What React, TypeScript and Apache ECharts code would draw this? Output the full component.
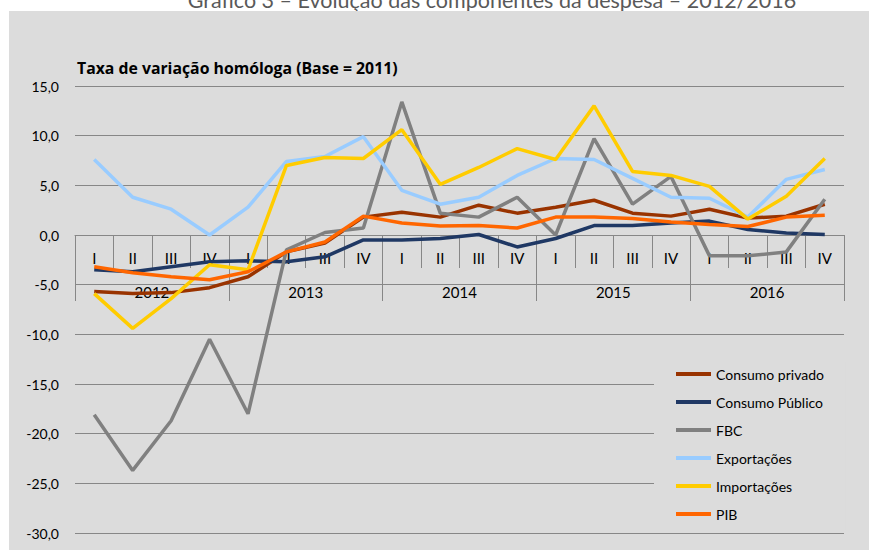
import React, { useEffect, useRef } from "react";
import * as echarts from "echarts";

const quarters = ["I", "II", "III", "IV", "I", "II", "III", "IV", "I", "II", "III", "IV", "I", "II", "III", "IV", "I", "II", "III", "IV"];
const years = ["2012", "2013", "2014", "2015", "2016"];

const consumoPrivado = [-5.7, -5.9, -5.8, -5.3, -4.2, -1.7, -0.8, 1.8, 2.3, 1.8, 3.0, 2.2, 2.8, 3.5, 2.2, 1.9, 2.6, 1.7, 1.9, 3.1];
const consumoPublico = [-3.5, -3.7, -3.2, -2.7, -2.6, -2.7, -2.2, -0.5, -0.5, -0.35, 0.05, -1.2, -0.35, 0.95, 0.95, 1.2, 1.4, 0.55, 0.2, 0.05];
const fbc = [-18.1, -23.7, -18.7, -10.5, -18.0, -1.5, 0.25, 0.7, 13.4, 2.2, 1.8, 3.8, 0.0, 9.7, 3.1, 5.9, -2.1, -2.1, -1.7, 3.6];
const exportacoes = [7.6, 3.8, 2.6, 0.0, 2.8, 7.4, 7.9, 9.9, 4.5, 3.1, 3.8, 6.0, 7.7, 7.6, 5.7, 3.8, 3.7, 1.8, 5.6, 6.6];
const importacoes = [-5.9, -9.4, -6.4, -3.0, -3.5, 7.0, 7.8, 7.7, 10.6, 5.1, 6.8, 8.7, 7.6, 13.0, 6.4, 6.0, 4.9, 1.6, 3.9, 7.7];
const pib = [-3.2, -3.8, -4.2, -4.5, -3.7, -1.7, -0.7, 1.9, 1.2, 0.9, 0.95, 0.7, 1.8, 1.8, 1.65, 1.3, 1.05, 0.85, 1.8, 2.0];

const seriesNames = ["Consumo privado", "Consumo Público", "FBC", "Exportações", "Importações", "PIB"];
const seriesColors = ["#993300", "#1f3864", "#808080", "#99ccff", "#ffcc00", "#ff6600"];
const seriesData = [consumoPrivado, consumoPublico, fbc, exportacoes, importacoes, pib];

const yTicks = { min: -30, max: 15, interval: 5 };

const FONT = "Lato";

export default function App() {
  const ref = useRef<HTMLDivElement>(null);
  useEffect(() => {
    if (!ref.current) return;
    const chart = echarts.init(ref.current, null, { renderer: "svg" });
    const axisGray = "#878787";
    const gridTop = 86;
    const gridBottomPx = 533;
    const zeroPx = gridTop + ((gridBottomPx - gridTop) * yTicks.max) / (yTicks.max - yTicks.min);
    const axisOffset = -(gridBottomPx - zeroPx);
    chart.setOption({
      animation: false,
      backgroundColor: "#ffffff",
      textStyle: { fontFamily: FONT },
      graphic: [
        {
          type: "text",
          z: -20,
          x: 492,
          y: 11,
          style: {
            text: "Gráfico 3 – Evolução das componentes da despesa – 2012/2016",
            textAlign: "center",
            textVerticalAlign: "bottom",
            fontFamily: FONT,
            fontSize: 21.5,
            fill: "#595959",
          },
        },
        {
          type: "rect",
          z: -10,
          shape: { x: 9, y: 11, width: 860, height: 539 },
          style: { fill: "#dcdcdc" },
        },
      ],
      title: {
        text: "Taxa de variação homóloga (Base = 2011)",
        left: 72,
        top: 55,
        textStyle: { fontFamily: "Open Sans", fontSize: 15.8, fontWeight: "bold", color: "#000" },
      },
      legend: {
        orient: "vertical",
        left: 654,
        top: 362,
        backgroundColor: "#dcdcdc",
        padding: [4, 22, 8, 22],
        itemWidth: 35,
        itemHeight: 4,
        itemGap: 12,
        icon: "rect",
        textStyle: { fontFamily: FONT, fontSize: 14, color: "#000", lineHeight: 16 },
        data: seriesNames,
      },
      grid: { left: 75, right: 25, top: gridTop, bottom: 550 - gridBottomPx, containLabel: false, outerBoundsMode: "none" },
      xAxis: [
        {
          type: "category",
          data: quarters,
          boundaryGap: true,
          position: "bottom",
          offset: axisOffset,
          axisLine: { show: true, onZero: false, lineStyle: { color: axisGray, width: 1 } },
          axisTick: { show: true, interval: 0, length: 33, lineStyle: { color: axisGray, width: 1 } },
          axisLabel: { interval: 0, margin: 15, fontFamily: FONT, fontSize: 15, color: "#000" },
          splitLine: { show: false },
        },
        {
          type: "category",
          data: years,
          position: "bottom",
          offset: axisOffset,
          boundaryGap: true,
          axisLine: { show: false, onZero: false },
          axisTick: { show: true, interval: 0, length: 66, lineStyle: { color: axisGray, width: 1 } },
          axisLabel: { interval: 0, margin: 49, fontFamily: FONT, fontSize: 15, color: "#000" },
          splitLine: { show: false },
        },
      ],
      yAxis: {
        type: "value",
        min: yTicks.min,
        max: yTicks.max,
        interval: yTicks.interval,
        axisLine: { show: false },
        axisTick: { show: false },
        axisLabel: {
          margin: 16,
          fontFamily: FONT,
          fontSize: 14,
          color: "#000",
          formatter: (v: number) => v.toFixed(1).replace(".", ","),
        },
        splitLine: { show: true, lineStyle: { color: axisGray, width: 1 } },
      },
      series: seriesNames.map((name, i) => ({
        name,
        type: "line",
        xAxisIndex: 0,
        data: seriesData[i],
        symbol: "none",
        color: seriesColors[i],
        lineStyle: { color: seriesColors[i], width: 3.5 },
        z: 2 + i,
      })),
    });
    return () => chart.dispose();
  }, []);
  return <div ref={ref} style={{ position: "absolute", left: 0, top: 0, width: 869, height: 550 }} />;
}
